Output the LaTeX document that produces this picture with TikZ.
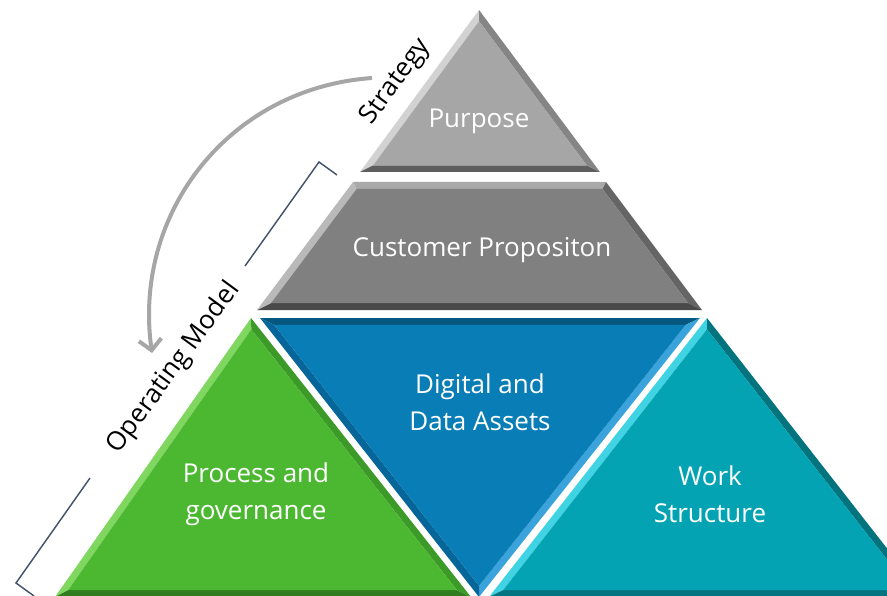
\documentclass[tikz,border=0pt]{standalone}
\usepackage{fontspec}
\setmainfont{Open Sans}
\usetikzlibrary{calc,arrows.meta}
\definecolor{pmain}{HTML}{A6A6A6}
\definecolor{plight}{HTML}{D2D2D2}
\definecolor{pdark}{HTML}{5E5E5E}
\definecolor{pright}{HTML}{858585}
\definecolor{cmain}{HTML}{808080}
\definecolor{ctop}{HTML}{A9A9A9}
\definecolor{cleft}{HTML}{B9B9B9}
\definecolor{cdark}{HTML}{4A4A4A}
\definecolor{cright}{HTML}{656565}
\definecolor{gmain}{HTML}{4CB832}
\definecolor{glight}{HTML}{80D760}
\definecolor{gdark}{HTML}{2F7D1F}
\definecolor{gright}{HTML}{3C9A28}
\definecolor{bmain}{HTML}{097DB5}
\definecolor{btop}{HTML}{05577F}
\definecolor{bright}{HTML}{3BA3DC}
\definecolor{bleft}{HTML}{06669A}
\definecolor{tmain}{HTML}{04A3B3}
\definecolor{tlight}{HTML}{40D3E3}
\definecolor{tdark}{HTML}{037580}
\definecolor{tright}{HTML}{03737E}
\definecolor{bracketc}{HTML}{44546A}
\definecolor{arrowc}{HTML}{A6A6A6}
\newcommand{\mybevtri}[9]{%
  \coordinate (#1i) at ($(#4)!#5!(#1)$);
  \coordinate (#2i) at ($(#4)!#5!(#2)$);
  \coordinate (#3i) at ($(#4)!#5!(#3)$);
  \fill[#6] (#1)--(#2)--(#2i)--(#1i)--cycle;
  \fill[#7] (#2)--(#3)--(#3i)--(#2i)--cycle;
  \fill[#8] (#3)--(#1)--(#1i)--(#3i)--cycle;
  \fill[#9] (#1i)--(#2i)--(#3i)--cycle;
}
\begin{document}
\begin{tikzpicture}[x=0.75pt,y=-0.75pt,
  lbl/.style={text=white,font=\fontsize{19.5}{28}\selectfont,align=center,inner sep=0pt},
  side/.style={text=black,font=\fontsize{19.5}{22}\selectfont,inner sep=0pt},
  brk/.style={draw=bracketc,line width=1.1pt},
  arrowst/.style={draw=arrowc,line width=3pt,-{Straight Barb[length=8pt,width=17pt]}}]
\useasboundingbox (0,0) rectangle (887,595);
\clip (0,0) rectangle (887,595);
% Purpose
\coordinate (pA) at (479,10);
\coordinate (pB) at (360,172);
\coordinate (pC) at (600,172);
\coordinate (pI) at (479.4,111.6);
\mybevtri{pA}{pB}{pC}{pI}{0.89}{plight}{pdark}{pright}{pmain}
% Customer trapezoid
\coordinate (cTL) at (353,182);
\coordinate (cTR) at (606,182);
\coordinate (cBR) at (702,310);
\coordinate (cBL) at (257,310);
\coordinate (cTLi) at (356.5,189);
\coordinate (cTRi) at (602.5,189);
\coordinate (cBRi) at (688,303);
\coordinate (cBLi) at (271,303);
\fill[ctop] (cTL)--(cTR)--(cTRi)--(cTLi)--cycle;
\fill[cright] (cTR)--(cBR)--(cBRi)--(cTRi)--cycle;
\fill[cdark] (cBR)--(cBL)--(cBLi)--(cBRi)--cycle;
\fill[cleft] (cBL)--(cTL)--(cTLi)--(cBLi)--cycle;
\fill[cmain] (cTLi)--(cTRi)--(cBRi)--(cBLi)--cycle;
% Green
\coordinate (gA) at (251,318);
\coordinate (gB) at (55,597);
\coordinate (gC) at (471,597);
\coordinate (gI) at (255.8,492.5);
\mybevtri{gA}{gB}{gC}{gI}{0.935}{glight}{gdark}{gright}{gmain}
% Blue
\coordinate (bD) at (260,318);
\coordinate (bE) at (700,318);
\coordinate (bF) at (479,597);
\coordinate (bI) at (479.4,424.7);
\mybevtri{bD}{bE}{bF}{bI}{0.935}{btop}{bright}{bleft}{bmain}
% Teal
\coordinate (tG) at (707,318);
\coordinate (tH) at (489,597);
\coordinate (tJ) at (925,597);
\coordinate (tI) at (707,490.5);
\mybevtri{tG}{tH}{tJ}{tI}{0.935}{tlight}{tdark}{tright}{tmain}
% labels
\node[lbl] (purpose) at (479,121) {Purpose};
\node[lbl] (customer) at (482,250) {Customer Propositon};
\node[lbl] (digital) at (480,402) {Digital and\\Data Assets};
\node[lbl] (process) at (256,494) {Process and\\governance};
\node[lbl] (work) at (710,494) {Work\\Structure};
\node[side,rotate=53.7] (strategy) at (396,82) {Strategy};
\node[side,rotate=53.7] (opmodel) at (174,368) {Operating Model};
% bracket
\coordinate (k1) at (337,175);
\coordinate (k2) at (319,162);
\coordinate (k3) at (245,266);
\coordinate (k4) at (90,478);
\coordinate (k5) at (16,583);
\coordinate (k6) at (34,596);
\draw[brk] (k1) -- (k2) -- (k3);
\draw[brk] (k4) -- (k5) -- (k6);
% arrow
\coordinate (a0) at (372,78);
\coordinate (a1) at (230,88);
\coordinate (a2) at (132.5,212);
\coordinate (a3) at (152,353);
\draw[arrowst] (a0) .. controls (a1) and (a2) .. (a3);
\end{tikzpicture}
\end{document}
